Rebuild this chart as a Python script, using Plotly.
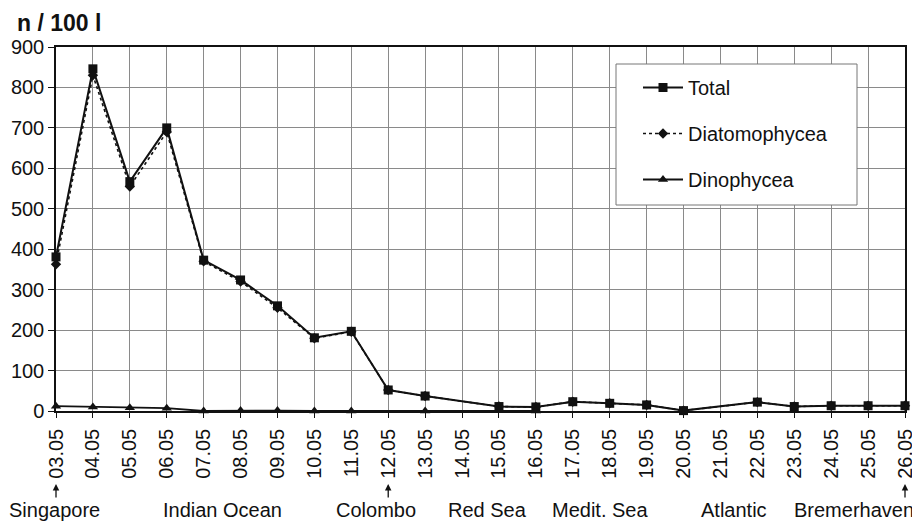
import plotly.graph_objects as go

dates = ["03.05", "04.05", "05.05", "06.05", "07.05", "08.05", "09.05", "10.05",
         "11.05", "12.05", "13.05", "14.05", "15.05", "16.05", "17.05", "18.05",
         "19.05", "20.05", "21.05", "22.05", "23.05", "24.05", "25.05", "26.05"]

total = [381, 846, 567, 700, 373, 324, 260, 181,
         197, 52, 37, None, 11, 10, 23, 19,
         15, 1, None, 22, 11, 13, 13, 13]

diatom = [363, 830, 555, 690, 370, 320, 255, 180,
          196, 52, 37, None, 11, 10, 23, 19,
          15, 1, None, 22, 11, 13, 13, 13]

dino = [12, 10, 8, 7, 0, 1, 1, 0,
        0, None, 0, None, None, 0, None, None,
        None, None, None, None, None, None, None, None]

y_ticks = [0, 100, 200, 300, 400, 500, 600, 700, 800, 900]

regions = ["Singapore", "Indian Ocean", "Colombo", "Red Sea", "Medit. Sea", "Atlantic", "Bremerhaven"]
region_px = [54, 222, 376, 488, 600, 734, 854]
arrow_dates = ["03.05", "12.05", "26.05"]

FONT = "Liberation Sans, Arial, sans-serif"

fig = go.Figure()
fig.add_trace(go.Scatter(
    x=dates, y=total, name="Total", mode="lines+markers", legendgroup="a",
    line=dict(color="#111", width=2), marker=dict(symbol="square", size=9, color="#111"),
    cliponaxis=False, connectgaps=True))
fig.add_trace(go.Scatter(
    x=dates, y=diatom, name="Diatomophycea", mode="lines+markers", legendgroup="b",
    line=dict(color="#111", width=1.6, dash="dot"), marker=dict(symbol="diamond", size=8, color="#111"),
    cliponaxis=False, connectgaps=True))
fig.add_trace(go.Scatter(
    x=dates, y=dino, name="Dinophycea", mode="lines+markers", legendgroup="c",
    line=dict(color="#111", width=1.8), marker=dict(symbol="triangle-up", size=9, color="#111"),
    cliponaxis=False, connectgaps=True))

# target plot area on screen (page body has an 8px margin)
OFF = 8
W, H = 920, 525
PL, PR, PT, PB = 56, 905, 47, 411
pw = PR - PL
ph = PB - PT
L = PL - OFF
T = PT - OFF
R = W - (PR - OFF)
B = H - (PB - OFF)

def px_x(px):
    return (px - PL) / pw

def px_y(py):
    return (PB - py) / ph

# legend box
fig.add_shape(type="rect", xref="paper", yref="paper",
              x0=px_x(616), x1=px_x(857), y0=px_y(205), y1=px_y(64),
              line=dict(color="#777", width=1), fillcolor="white", layer="above")

annotations = [dict(text="<b>n / 100 l</b>", xref="paper", yref="paper",
                    x=px_x(15), y=px_y(23), xanchor="left", yanchor="middle",
                    showarrow=False, font=dict(size=23, family=FONT, color="#111"))]
for name, px in zip(regions, region_px):
    annotations.append(dict(text=name, xref="paper", yref="paper", x=px_x(px), y=px_y(510),
                            xanchor="center", yanchor="middle", showarrow=False,
                            font=dict(size=20, family=FONT, color="#111")))
for d in arrow_dates:
    annotations.append(dict(text="", xref="paper", yref="paper",
                            x=dates.index(d) / (len(dates) - 1), y=px_y(484),
                            ax=0, ay=15, showarrow=True, arrowhead=2, arrowsize=1,
                            arrowwidth=1.3, arrowcolor="#111"))

fig.update_layout(
    width=W, height=H,
    margin=dict(l=L, r=R, t=T, b=B, autoexpand=False),
    paper_bgcolor="white", plot_bgcolor="white",
    font=dict(family=FONT, color="#111"),
    showlegend=True,
    legend=dict(x=px_x(638), y=px_y(68), xanchor="left", yanchor="top",
                bgcolor="rgba(0,0,0,0)", borderwidth=0,
                font=dict(size=20, family=FONT, color="#111"),
                tracegroupgap=17, itemwidth=40),
    annotations=annotations,
)
fig.update_xaxes(type="category", categoryorder="array", categoryarray=dates,
                 range=[0, len(dates) - 1], tickangle=-90, automargin=False,
                 tickfont=dict(size=20, family=FONT, color="#111"),
                 ticklabelstandoff=3,
                 showgrid=True, gridcolor="#8a8a8a", gridwidth=1,
                 showline=True, linecolor="#111", linewidth=1.5, mirror=True,
                 ticks="outside", ticklen=5, tickcolor="#111", zeroline=False)
fig.update_yaxes(range=[0, 900], tickvals=y_ticks, automargin=False,
                 tickfont=dict(size=20, family=FONT, color="#111"),
                 showgrid=True, gridcolor="#8a8a8a", gridwidth=1,
                 showline=True, linecolor="#111", linewidth=1.5, mirror=True,
                 ticks="outside", ticklen=6, tickcolor="#111", zeroline=False)

fig.write_html("out.html")
